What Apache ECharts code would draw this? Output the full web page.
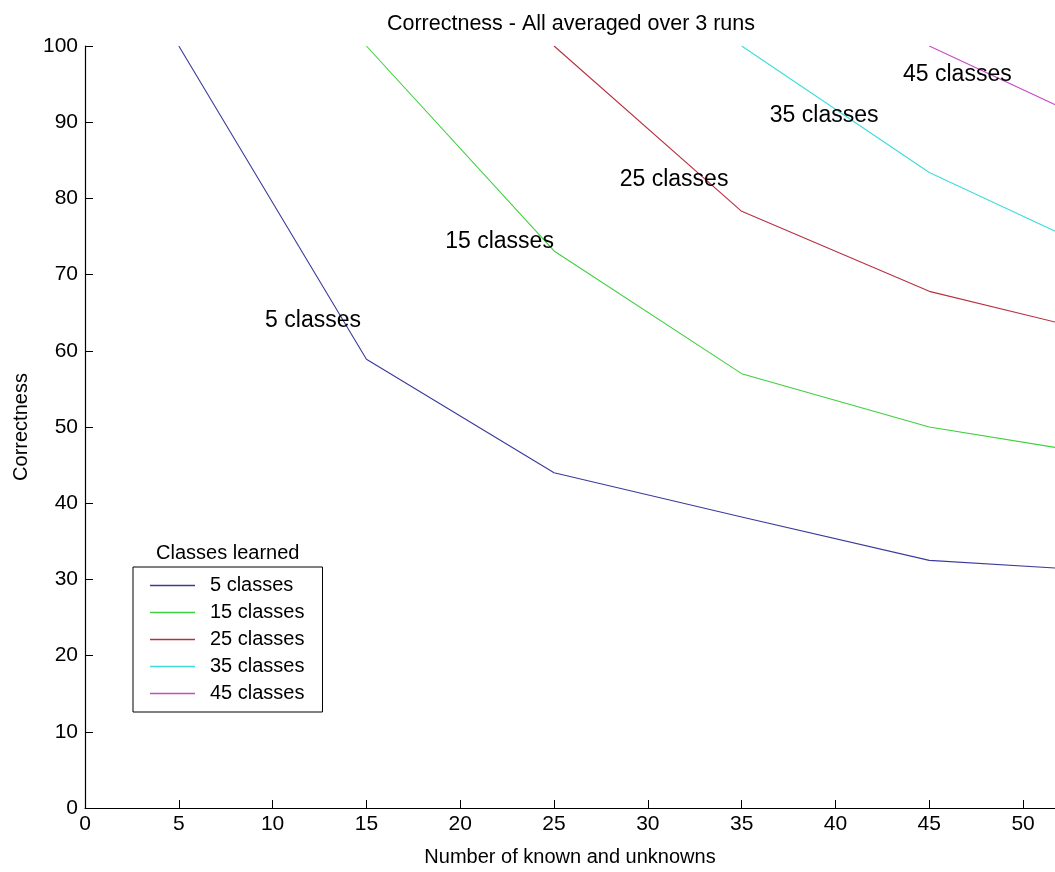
<!DOCTYPE html>
<html>
<head>
<meta charset="utf-8">
<script src="https://cdn.jsdelivr.net/npm/echarts@6/dist/echarts.min.js"></script>
<style>
html,body{margin:0;padding:0;background:#fff;}
#chart{width:1055px;height:872px;}
</style>
</head>
<body>
<div id="chart"></div>
<script>
// Data
const xValues = [5, 15, 25, 35, 45, 55];
const seriesNames = ['5 classes', '15 classes', '25 classes', '35 classes', '45 classes'];
const s5  = [100, 58.9, 44.0, 38.2, 32.5, 31.0];
const s15 = [null, 100, 73.1, 57.0, 50.0, 46.0];
const s25 = [null, null, 100, 78.3, 67.8, 61.8];
const s35 = [null, null, null, 100, 83.4, 71.9];
const s45 = [null, null, null, null, 100, 88.5];
const seriesValues = [s5, s15, s25, s35, s45];
const colors = ['#3a3a9c', '#3fcf3f', '#b8303f', '#3fdcdc', '#c84ac8'];
// in-plot text annotations: [x, y, text]
const annotations = [
  [9.6, 64.0, '5 classes'],
  [19.2, 74.3, '15 classes'],
  [28.5, 82.5, '25 classes'],
  [36.5, 90.9, '35 classes'],
  [43.6, 96.3, '45 classes']
];
const xTicks = [0, 5, 10, 15, 20, 25, 30, 35, 40, 45, 50];
const yTicks = [0, 10, 20, 30, 40, 50, 60, 70, 80, 90, 100];

const FONT = 'Liberation Sans, Arial, sans-serif';
const FS = 21;

const chart = echarts.init(document.getElementById('chart'), null, {renderer: 'canvas'});

const lineSeries = seriesNames.map((name, i) => ({
  name: name,
  type: 'line',
  symbol: 'none',
  clip: true,
  lineStyle: {width: 1.1, color: colors[i]},
  itemStyle: {color: colors[i]},
  data: xValues.map((x, j) => seriesValues[i][j] == null ? null : [x, seriesValues[i][j]]).filter(d => d !== null),
  z: 2
}));

const option = {
  animation: false,
  backgroundColor: '#fff',
  title: [
    {
      text: 'Correctness - All averaged over 3 runs',
      left: 566, top: 8, textAlign: 'center',
      textStyle: {fontFamily: FONT, fontSize: 21.5, fontWeight: 'normal', color: '#000'}
    },
    {
      text: 'Classes learned',
      left: 151, top: 538,
      textStyle: {fontFamily: FONT, fontSize: FS - 1, fontWeight: 'normal', color: '#000'}
    }
  ],
  legend: {
    data: seriesNames.map((n, i) => ({name: n, itemStyle: {color: colors[i]}})),
    orient: 'vertical',
    left: 133, top: 567,
    backgroundColor: '#fff',
    borderColor: '#000',
    borderWidth: 1,
    borderRadius: 0,
    padding: [8, 18, 8, 17],
    itemWidth: 45,
    itemHeight: 1.3,
    itemGap: 6,
    icon: 'rect',
    textStyle: {fontFamily: FONT, fontSize: FS - 1, color: '#000', lineHeight: 21, padding: [0, 0, 0, 10]}
  },
  grid: {left: 85, right: 0, top: 46, bottom: 59, containLabel: false},
  xAxis: {
    type: 'value',
    min: 0, max: 51.7, interval: 5,
    name: 'Number of known and unknowns',
    nameLocation: 'middle',
    nameGap: 39,
    nameTextStyle: {fontFamily: FONT, fontSize: FS - 1, color: '#000'},
    axisLine: {show: true, onZero: false, lineStyle: {color: '#000', width: 1.2}},
    axisTick: {show: true, inside: true, length: 8, lineStyle: {color: '#000'}},
    axisLabel: {
      fontFamily: FONT, fontSize: FS, color: '#000', margin: 6, showMaxLabel: false,
      formatter: v => xTicks.includes(v) ? String(v) : ''
    },
    splitLine: {show: false}
  },
  yAxis: {
    type: 'value',
    min: 0, max: 100, interval: 10,
    name: 'Correctness',
    nameLocation: 'middle',
    nameGap: 54,
    nameRotate: 90,
    nameTextStyle: {fontFamily: FONT, fontSize: FS - 1, color: '#000'},
    axisLine: {show: true, lineStyle: {color: '#000', width: 1.2}},
    axisTick: {show: true, inside: true, length: 8, lineStyle: {color: '#000'}},
    axisLabel: {
      fontFamily: FONT, fontSize: FS, color: '#000', margin: 7,
      formatter: v => yTicks.includes(v) ? String(v) : ''
    },
    splitLine: {show: false}
  },
  series: lineSeries.concat([{
    name: 'annotations',
    type: 'scatter',
    symbolSize: 0,
    silent: true,
    itemStyle: {opacity: 1, color: '#000'},
    data: annotations.map(a => ({value: [a[0], a[1]], label: {formatter: a[2]}})),
    label: {
      show: true,
      position: 'right',
      distance: 0,
      fontFamily: FONT, fontSize: 23, color: '#000', opacity: 1
    },
    z: 5
  }])
};

chart.setOption(option);
</script>
</body>
</html>
